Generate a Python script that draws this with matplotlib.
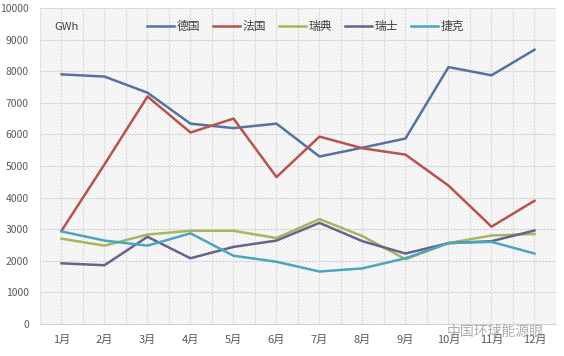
import numpy as np
import matplotlib.pyplot as plt
from matplotlib.patches import Rectangle

plt.rcParams['font.family'] = ['Noto Sans CJK SC', 'DejaVu Sans']
plt.rcParams['hatch.linewidth'] = 0.5

# data (GWh)
months = ["1月", "2月", "3月", "4月", "5月", "6月", "7月", "8月", "9月", "10月", "11月", "12月"]
germany = [7900, 7830, 7320, 6340, 6200, 6340, 5300, 5580, 5870, 8130, 7870, 8680]
france = [2950, 5050, 7200, 6060, 6500, 4650, 5930, 5560, 5360, 4380, 3080, 3900]
sweden = [2700, 2480, 2830, 2950, 2950, 2720, 3320, 2780, 2050, 2560, 2800, 2850]
switzerland = [1920, 1860, 2760, 2080, 2440, 2640, 3200, 2620, 2230, 2560, 2620, 2960]
czech = [2930, 2640, 2480, 2870, 2160, 1970, 1660, 1760, 2080, 2560, 2600, 2230]

series = [("德国", germany, "#55739e"),
          ("法国", france, "#b8524f"),
          ("瑞典", sweden, "#a5b65f"),
          ("瑞士", switzerland, "#6e5f8c"),
          ("捷克", czech, "#4aa6bd")]

fig = plt.figure(figsize=(5.64, 3.56), dpi=100)
ax = fig.add_axes([0.0709, 0.0899, 0.9149, 0.8876])

x = np.arange(len(months))

# hatched plot-area background
ax.add_patch(Rectangle((0, 0), 1, 1, transform=ax.transAxes, facecolor='white',
                       hatch='\\' * 10, edgecolor='#dedede', linewidth=0, zorder=0))

for name, vals, c in series:
    ax.plot(x, vals, color=c, linewidth=1.8, label=name, zorder=3)

ax.set_xlim(-0.5, len(months) - 0.5)
ax.set_ylim(0, 10000)
ax.set_yticks(np.arange(0, 10001, 1000))
ax.set_xticks(x)
ax.set_xticklabels(months)

# grid lines: every 1000 horizontally, every half category vertically
for yv in range(1000, 10001, 1000):
    ax.axhline(yv, color='#dadada', linewidth=0.8, zorder=1)
for xv in np.arange(-0.5, len(months), 0.5):
    ax.axvline(xv, color='#e2e2e2', linewidth=0.8, zorder=1)

for s in ['top', 'right', 'left']:
    ax.spines[s].set_visible(False)
ax.spines['bottom'].set_color('#d0d0d0')
ax.tick_params(axis='both', length=0, labelsize=7.5, colors='#595959')
ax.tick_params(axis='x', pad=8, labelsize=8)
ax.tick_params(axis='y', pad=8)

ax.text(0.028, 0.94, "GWh", transform=ax.transAxes, fontsize=8, color='#404040',
        va='center', ha='left')

ax.legend(loc='upper center', bbox_to_anchor=(0.515, 0.995), ncol=5, frameon=False,
          fontsize=8.5, handlelength=2.3, columnspacing=1.1, handletextpad=0.2,
          labelcolor='#404040')

# watermark
fig.text(0.878, 0.068, "中国环球能源眼", fontsize=10, color='#8a8a8a', alpha=0.7,
         ha='center', va='center')

fig.savefig("out.png", dpi=100)
